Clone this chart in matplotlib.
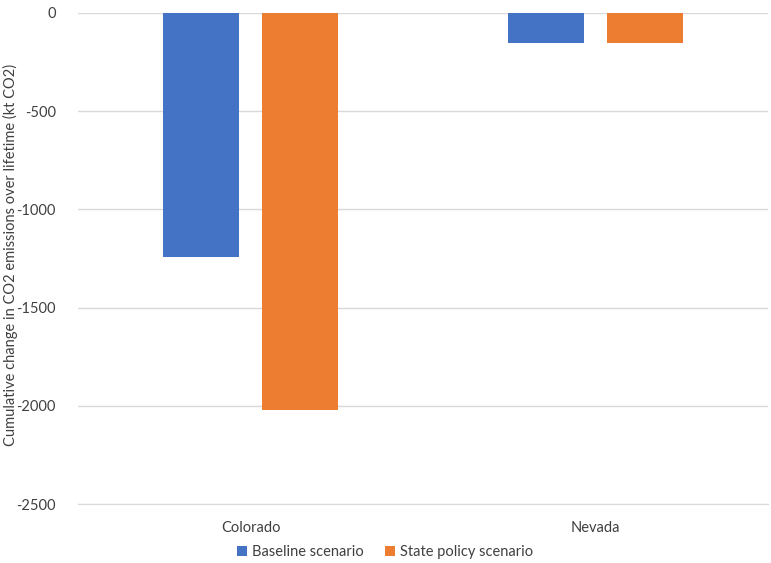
import matplotlib
matplotlib.use("Agg")
import matplotlib.pyplot as plt
from matplotlib.patches import Patch
import numpy as np

plt.rcParams['font.family'] = ['Lato', 'DejaVu Sans']

states = ["Colorado", "Nevada"]
baseline = [-1244, -155]
state_policy = [-2021, -155]
series_names = ["Baseline scenario", "State policy scenario"]
colors = ["#4472C4", "#ED7D31"]
yticks = [0, -500, -1000, -1500, -2000, -2500]

W, H = 771, 563
fig = plt.figure(figsize=(W / 100, H / 100), dpi=100)
ax = fig.add_axes([78 / W, 1 - 504 / H, 690 / W, 491 / H])

x = np.arange(len(states))
bw = 0.223
off = 0.1435
ax.bar(x - off, baseline, bw, color=colors[0], zorder=3)
ax.bar(x + off, state_policy, bw, color=colors[1], zorder=3)

ax.set_xlim(-0.5, 1.5)
ax.set_ylim(-2500, 0)
ax.set_yticks(yticks)
ax.set_yticklabels([str(v) for v in yticks], fontsize=10.5, color="#404040")
ax.set_xticks(x)
ax.set_xticklabels(states, fontsize=10.5, color="#404040")
ax.tick_params(axis="both", length=0)
ax.tick_params(axis="y", pad=16)
ax.tick_params(axis="x", pad=12)
ax.yaxis.grid(True, color="#d9d9d9", linewidth=1, zorder=0)
for s in ["top", "right", "left", "bottom"]:
    ax.spines[s].set_visible(False)
ax.spines["bottom"].set_visible(True)
ax.spines["bottom"].set_color("#d9d9d9")
ax.set_ylabel("Cumulative change in CO2 emissions over lifetime (kt CO2)",
              fontsize=10.5, color="#404040")
ax.yaxis.set_label_coords((18 - 78) / 690, (504 - 255) / 491)

handles = [Patch(facecolor=c, label=n) for c, n in zip(colors, series_names)]
fig.legend(handles=handles, loc="center", bbox_to_anchor=(385 / W, 1 - 552 / H),
           ncol=2, frameon=False, fontsize=10.5, handlelength=0.7, handleheight=0.7,
           handletextpad=0.3, columnspacing=1.5, labelcolor="#404040")

fig.savefig("out.png", dpi=100)
